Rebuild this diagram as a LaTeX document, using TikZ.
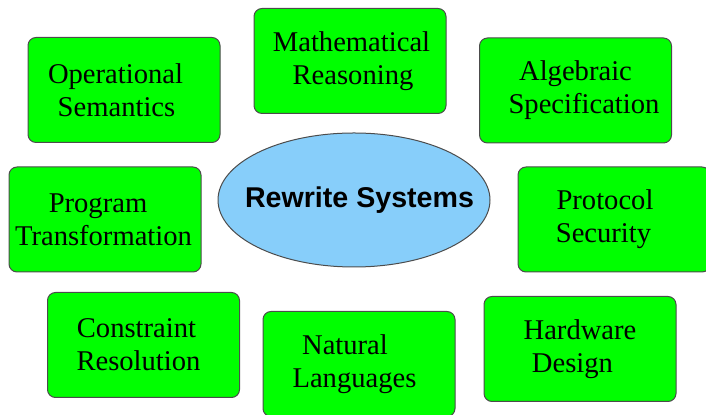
\documentclass[tikz,border=0pt]{standalone}
\usepackage{fontspec}
\setmainfont{Liberation Serif}
\setsansfont{Liberation Sans}
\usepackage{tikz}
\usetikzlibrary{positioning, shapes.geometric}
\definecolor{boxgreen}{RGB}{0,255,0}
\definecolor{hubblue}{RGB}{135,206,250}

\begin{document}
\begin{tikzpicture}[
  x=0.5pt, y=-0.5pt,
  font=\fontsize{14.3}{16.5}\selectfont,
  topic/.style={draw=black!70, line width=0.5pt, rounded corners=4pt,
                fill=boxgreen, minimum width=96pt, minimum height=52.5pt,
                inner sep=0pt, align=center},
  hub/.style={ellipse, draw=black!70, line width=0.5pt, fill=hubblue,
              minimum width=136pt, minimum height=67pt, inner sep=0pt,
              font=\sffamily\bfseries\fontsize{14.3}{16.5}\selectfont}
]
\useasboundingbox (0,0) rectangle (706,415);
% centre
\node[hub] (rw) at (354,200) {\makebox[0pt]{\hspace*{5.5pt}Rewrite Systems}};
% top row
\node[topic] (ops) at (124,90) {Operational\hspace*{8.5pt}\\Semantics\hspace*{7.5pt}};
\node[topic] (math) at (350,61) {\hspace*{1.5pt}Mathematical\\\hspace*{3pt}Reasoning};
\node[topic] (alg) at (575.5,90.5) {Algebraic\\\hspace*{8.5pt}Specification};
% middle row
\node[topic] (prog) at (105,219.5) {Program\hspace*{7pt}\\Transformation\hspace*{1.5pt}};
\node[topic] (prot) at (614,219.5) {Protocol\hspace*{9pt}\\Security\hspace*{10.5pt}};
% bottom row
\node[topic] (cons) at (143.5,345) {Constraint\hspace*{7pt}\\Resolution\hspace*{5pt}};
\node[topic] (nat) at (359,364) {Natural\hspace*{14pt}\\Languages\hspace*{4.5pt}};
\node[topic] (hard) at (580,349) {Hardware\\Design\hspace*{7.5pt}};
\end{tikzpicture}
\end{document}
